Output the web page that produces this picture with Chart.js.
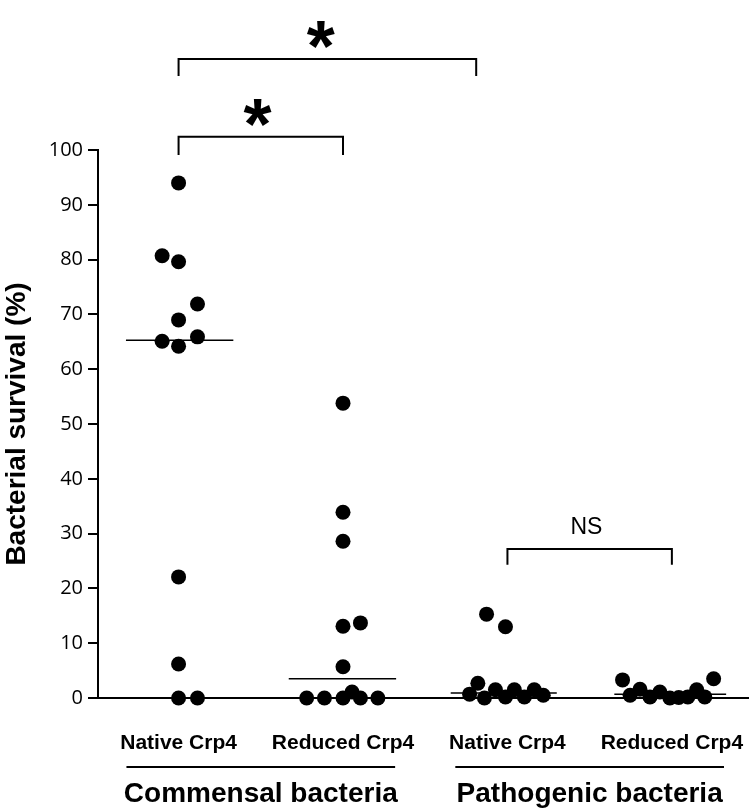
<!DOCTYPE html>
<html>
<head>
<meta charset="utf-8">
<script src="https://cdn.jsdelivr.net/npm/chart.js@4/dist/chart.umd.min.js"></script>
<style>
  html, body { margin: 0; padding: 0; background: #ffffff; }
  #wrap { width: 756px; height: 810px; position: relative; }
</style>
</head>
<body>
<div id="wrap"><canvas id="c"></canvas></div>
<script>
// ---------- data ----------
const categories = ['Native Crp4', 'Reduced Crp4', 'Native Crp4', 'Reduced Crp4'];
const groupNames = ['Commensal bacteria', 'Pathogenic bacteria'];
const yTicks = [0, 10, 20, 30, 40, 50, 60, 70, 80, 90, 100];

// survival values (%) per group, with the horizontal jitter (category units) used in the figure
const commensalNativeY   = [94.0, 80.7, 79.6, 71.9, 69.0, 65.1, 64.2, 65.9, 22.1, 6.2, 0, 0];
const commensalNativeJ   = [0, -0.10, 0, 0.115, 0, -0.10, 0, 0.115, 0, 0, 0, 0.115];
const commensalReducedY  = [53.8, 33.9, 28.6, 13.1, 13.7, 5.7, 0, 0, 0, 1.1, 0, 0];
const commensalReducedJ  = [0, 0, 0, 0, 0.106, 0, -0.221, -0.113, 0, 0.055, 0.106, 0.212];
const pathogenNativeY    = [15.3, 13.0, 2.7, 0.7, 0, 1.5, 0.2, 1.5, 0.2, 1.5, 0.5];
const pathogenNativeJ    = [-0.127, -0.012, -0.18, -0.23, -0.14, -0.073, -0.012, 0.042, 0.103, 0.163, 0.218];
const pathogenReducedY   = [3.3, 3.5, 0.5, 1.6, 0.2, 1.1, 0, 0.1, 0.2, 1.5, 0.2];
const pathogenReducedJ   = [-0.30, 0.254, -0.254, -0.194, -0.133, -0.073, -0.012, 0.042, 0.097, 0.151, 0.2];

// medians (value, from, to in category units)
const medianValues = [65.3, 3.5, 0.9, 0.7];
const medianFrom   = [0.68, 1.67, 2.655, 3.65];
const medianTo     = [1.333, 2.323, 3.30, 4.33];

// significance brackets
const bracketFrom  = [1, 1, 3];
const bracketTo    = [2, 2.81, 4];
const bracketTop   = [102.4, 116.6, 27.2];
const bracketLeg   = [99.1, 113.5, 24.3];
const bracketLabel = ['*', '*', 'NS'];
const bracketLabelX = [1.48, 1.865, 3.48];
const bracketLabelY = [106.8, 121.0, 31.0];

// ---------- build datasets ----------
const groupsY = [commensalNativeY, commensalReducedY, pathogenNativeY, pathogenReducedY];
const groupsJ = [commensalNativeJ, commensalReducedJ, pathogenNativeJ, pathogenReducedJ];

const datasets = [];
groupsY.forEach((ys, gi) => {
  datasets.push({
    type: 'line',
    data: [{x: medianFrom[gi], y: medianValues[gi]}, {x: medianTo[gi], y: medianValues[gi]}],
    borderColor: '#000', borderWidth: 1.5, pointRadius: 0, clip: false, order: 2
  });
});
groupsY.forEach((ys, gi) => {
  datasets.push({
    type: 'scatter',
    data: ys.map((v, i) => ({x: gi + 1 + groupsJ[gi][i], y: v})),
    backgroundColor: '#000', borderColor: '#000', borderWidth: 0,
    pointRadius: 7.5, pointHoverRadius: 7.5, clip: false, order: 1
  });
});

const annotPlugin = {
  id: 'annot',
  afterDraw(chart) {
    const {ctx, scales: {x, y}, chartArea} = chart;
    ctx.save();
    ctx.strokeStyle = '#000';
    ctx.fillStyle = '#000';
    ctx.lineWidth = 2;
    // brackets
    for (let i = 0; i < bracketFrom.length; i++) {
      const x1 = x.getPixelForValue(bracketFrom[i]);
      const x2 = x.getPixelForValue(bracketTo[i]);
      const yt = y.getPixelForValue(bracketTop[i]);
      const yl = y.getPixelForValue(bracketLeg[i]);
      ctx.beginPath();
      ctx.moveTo(x1, yl); ctx.lineTo(x1, yt); ctx.lineTo(x2, yt); ctx.lineTo(x2, yl);
      ctx.stroke();
      const lx = x.getPixelForValue(bracketLabelX[i]);
      const ly = y.getPixelForValue(bracketLabelY[i]);
      ctx.textAlign = 'center';
      if (bracketLabel[i] === '*') {
        const fs = 72;
        ctx.font = 'bold ' + fs + 'px "Liberation Sans", Arial, sans-serif';
        ctx.textBaseline = 'alphabetic';
        ctx.fillText('*', lx, ly + 0.5 * fs);
      } else {
        ctx.font = '23px "Liberation Sans", Arial, sans-serif';
        ctx.textBaseline = 'middle';
        ctx.fillText(bracketLabel[i], lx, ly);
      }
    }
    // group lines and labels
    const bottom = chartArea.bottom;
    ctx.font = 'bold 28px "Liberation Sans", Arial, sans-serif';
    ctx.textAlign = 'center';
    ctx.textBaseline = 'alphabetic';
    groupNames.forEach((g, i) => {
      const c = 1.5 + 2 * i;
      const xa = x.getPixelForValue(c - 0.817);
      const xb = x.getPixelForValue(c + 0.817);
      ctx.beginPath();
      ctx.moveTo(xa, bottom + 69); ctx.lineTo(xb, bottom + 69);
      ctx.stroke();
      ctx.fillText(g, x.getPixelForValue(c), bottom + 104);
    });
    ctx.restore();
  }
};

new Chart(document.getElementById('c'), {
  data: { datasets },
  options: {
    responsive: true,
    maintainAspectRatio: false,
    animation: false,
    events: [],
    layout: { padding: { top: 150, right: 4, bottom: 0, left: 0 } },
    plugins: { legend: { display: false }, tooltip: { enabled: false } },
    scales: {
      x: {
        type: 'linear',
        min: 0.51, max: 4.466,
        afterBuildTicks: s => { s.ticks = [1, 2, 3, 4].map(v => ({value: v})); },
        afterFit: s => { s.height = 112; s.paddingLeft = 0; s.paddingRight = 0; },
        grid: { display: false, drawTicks: false },
        border: { display: true, color: '#000', width: 2 },
        ticks: {
          autoSkip: false, maxRotation: 0, padding: 33, color: '#000',
          font: { family: '"Liberation Sans", Arial, sans-serif', size: 21, weight: 'bold' },
          callback: v => categories[v - 1] || ''
        }
      },
      y: {
        type: 'linear',
        min: 0, max: 100,
        afterBuildTicks: s => { s.ticks = yTicks.map(v => ({value: v})); },
        afterFit: s => { s.width = 98; },
        grid: { display: true, drawOnChartArea: false, drawTicks: true, tickLength: 10, color: '#000', lineWidth: 2 },
        border: { display: true, color: '#000', width: 2 },
        ticks: {
          padding: 5, color: '#000',
          font: { family: '"Open Sans", sans-serif', size: 20 }
        },
        title: {
          display: true, text: 'Bacterial survival (%)', color: '#000',
          padding: { top: 0, bottom: 0 },
          font: { family: '"Liberation Sans", Arial, sans-serif', size: 28, weight: 'bold' }
        }
      }
    }
  },
  plugins: [annotPlugin]
});
</script>
</body>
</html>
